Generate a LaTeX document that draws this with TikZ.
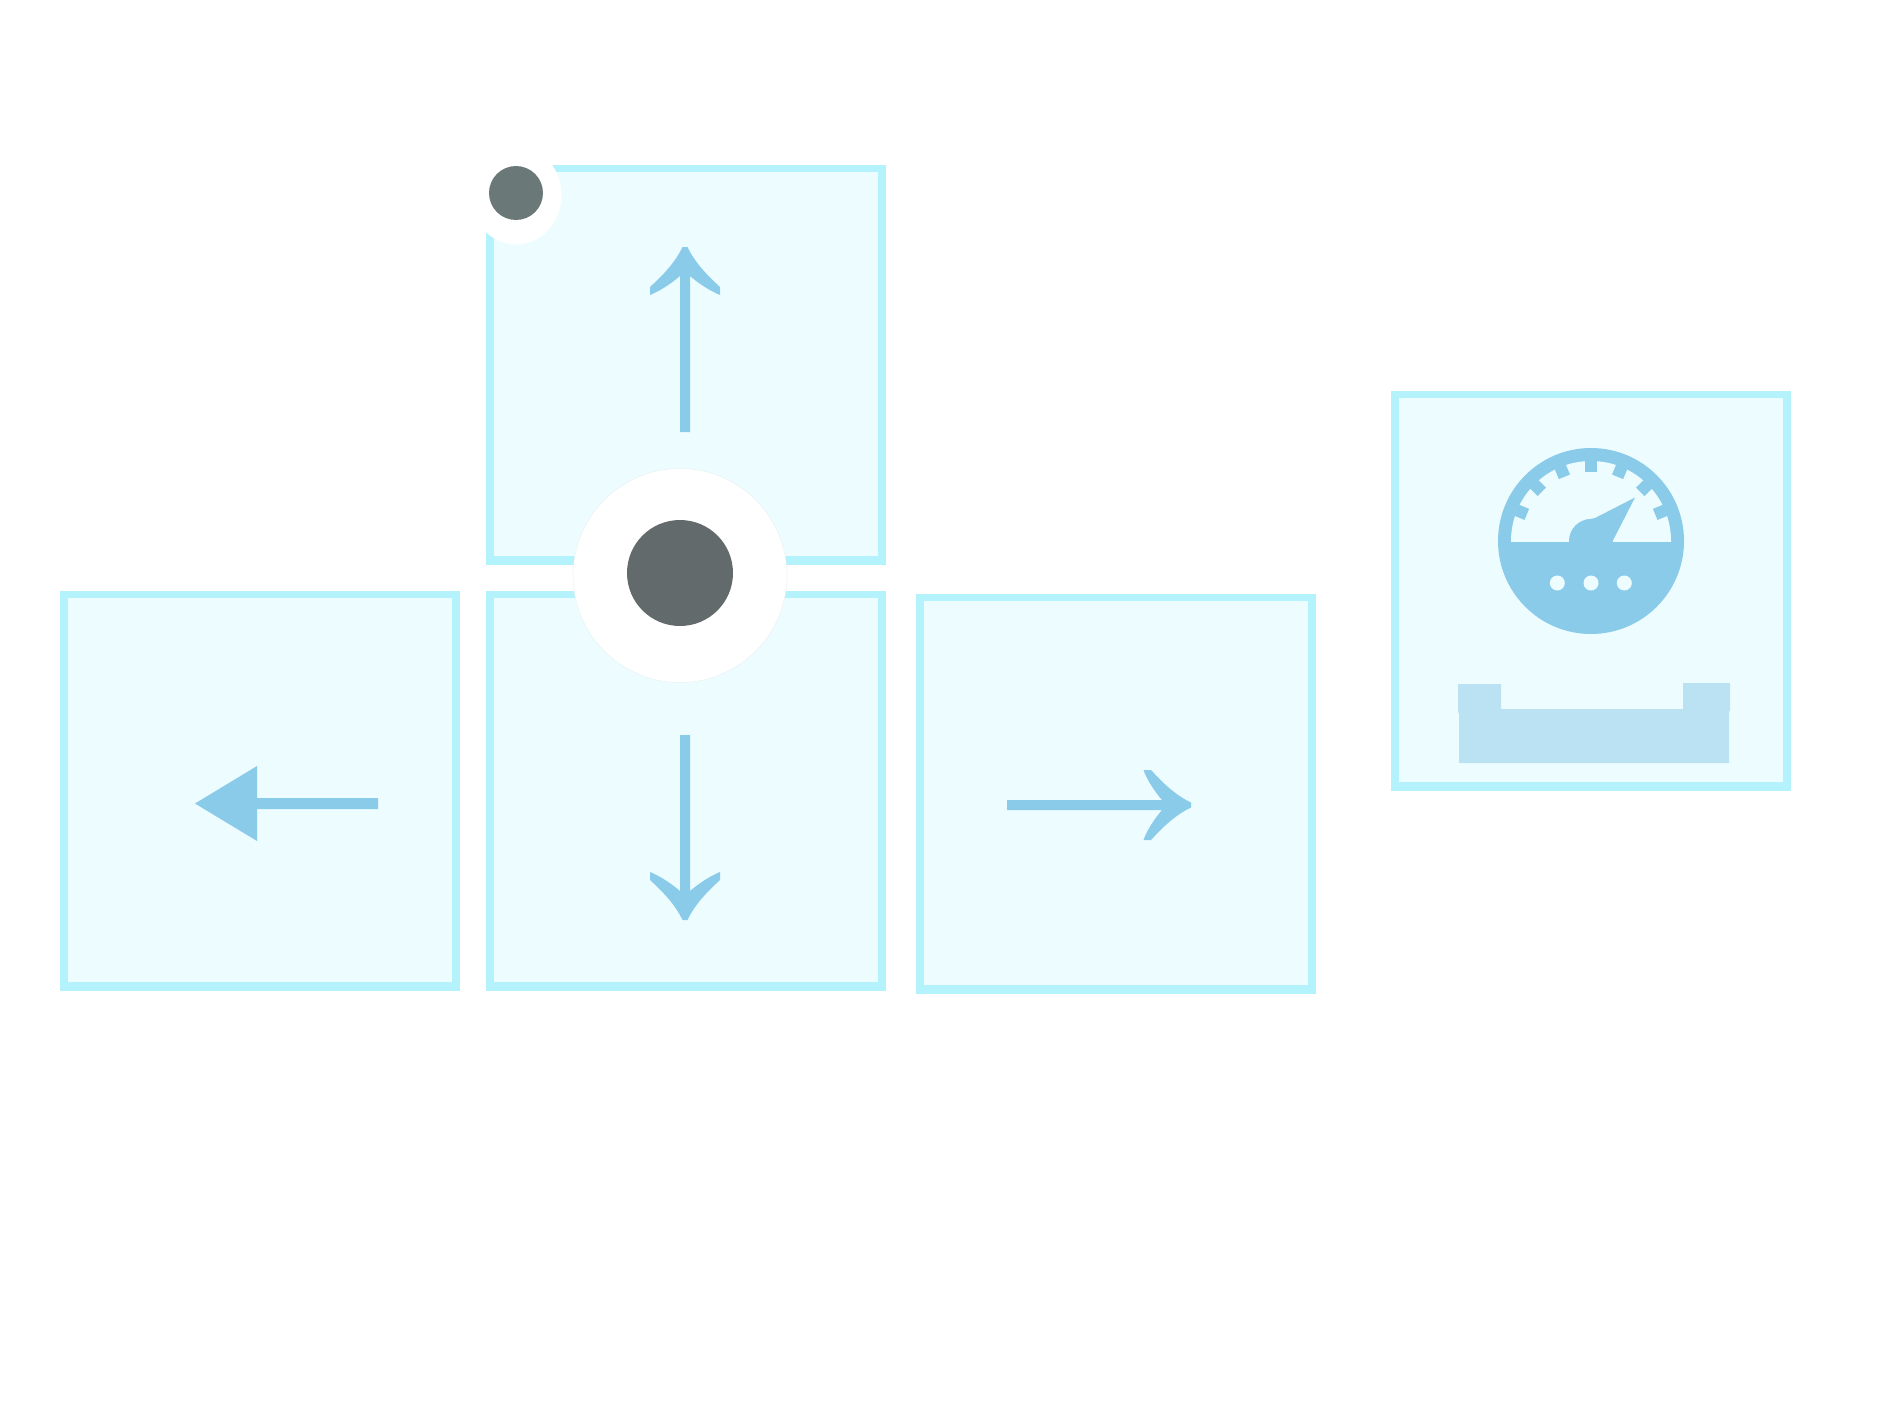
\documentclass[tikz,border=0pt]{standalone}
\definecolor{keyedge}{HTML}{B4F2FC}
\definecolor{keyfill}{HTML}{EDFDFF}
\definecolor{glyph}{HTML}{8BCBEA}
\definecolor{basecol}{HTML}{BAE2F3}
\definecolor{bigdot}{HTML}{626A6B}
\definecolor{smalldot}{HTML}{6B7878}
\definecolor{haloedge}{HTML}{E6EEEF}
\tikzset{
  keybox/.style={rectangle,draw=none,fill=keyedge,outer sep=0pt,minimum size=8cm,inner sep=0pt},
  keyface/.style={rectangle,draw=none,fill=keyfill,outer sep=0pt,minimum size=7.68cm,inner sep=0pt},
  glyphfill/.style={fill=glyph,draw=none},
  halo/.style={fill=white,draw=none},
  spot/.style={circle,inner sep=0pt,draw=none},
}
\begin{document}
\begin{tikzpicture}[x=0.02cm,y=-0.02cm]
\useasboundingbox[fill=white] (0,0) rectangle (1890,1417);
% keys: outer edge, then the face set slightly high within it
\node[keybox] (up) at (686,365) {};
\fill[keyedge] (486,165) rectangle (676,167);
\node[keyface] (upface) at (686,364) {};
\node[keybox] (left) at (260,791) {};
\node[keyface] (leftface) at (260,789.7) {};
\node[keybox] (down) at (686,791) {};
\node[keyface] (downface) at (686,789.7) {};
\node[keybox] (right) at (1116,794) {};
\node[keyface] (rightface) at (1116,793) {};
\node[keybox] (gauge) at (1591,591) {};
\node[keyface] (gaugeface) at (1591,589.8) {};
% up arrow
\fill[glyphfill] (680,432) -- (680,276) .. controls (672,283) and (660,291) .. (650,295) -- (650,287)
  .. controls (662,276) and (675,263) .. (682.5,247) -- (687.5,247)
  .. controls (695,263) and (708,276) .. (720,287) -- (720,295)
  .. controls (710,291) and (698,283) .. (690,276) -- (690,432) -- cycle;
% down arrow
\fill[glyphfill] (680,735) -- (680,891) .. controls (672,884) and (660,876) .. (650,872) -- (650,880)
  .. controls (662,891) and (675,904) .. (682.5,920) -- (687.5,920)
  .. controls (695,904) and (708,891) .. (720,880) -- (720,872)
  .. controls (710,876) and (698,884) .. (690,891) -- (690,735) -- cycle;
% right arrow
\fill[glyphfill] (1007,800) -- (1162,800) .. controls (1155,792) and (1147,780) .. (1143.5,770) -- (1151,770)
  .. controls (1162,782) and (1175,795) .. (1191,802.5) -- (1191,807.5)
  .. controls (1175,815) and (1162,828) .. (1151,840) -- (1143.5,840)
  .. controls (1147,830) and (1155,818) .. (1162,810) -- (1007,810) -- cycle;
% left arrow
\fill[glyphfill] (195,803.5) -- (257,766) -- (257,798) -- (378,798) -- (378,809) -- (257,809) -- (257,841) -- cycle;
% gauge dial
\fill[glyphfill] (1591,541) circle[radius=93];
\begin{scope}
  \clip (1500,450) rectangle (1682,541);
  \fill[keyfill] (1591,541) circle[radius=80];
\end{scope}
\begin{scope}[shift={(1591,541)}]
  \foreach \a in {22.5,45,67.5,90,112.5,135,157.5}
    \draw[glyph,line width=0.24cm] (-\a:69.5) -- (-\a:84);
  \fill[glyphfill] (0,0) circle[radius=22];
\end{scope}
\fill[glyphfill] (1585,520) -- (1595,518) -- (1635,497.5) -- (1612.7,541) -- (1591,541) -- cycle;
\foreach \x in {1557.3,1591,1624.3}
  \fill[keyfill] (\x,583) circle[radius=7.5];
% gauge base
\fill[basecol] (1459,709) -- (1501,709) -- (1501,684) -- (1458,684) -- (1458,712.7) -- (1459,712.7) -- (1459,763) -- (1729,763) -- (1729,711) -- (1730,711) -- (1730,683) -- (1683,683) -- (1683,709) -- cycle;
% sticks
\draw[haloedge,line width=0.2pt,fill=white] (680,575.5) circle[radius=107];
\node[spot,fill=bigdot,minimum size=2.12cm] (bigcap) at (680,573) {};
\fill[halo] (516,195) ellipse[x radius=45.5,y radius=49.5];
\node[spot,fill=smalldot,minimum size=1.08cm] (smallcap) at (516,193) {};
\end{tikzpicture}
\end{document}
